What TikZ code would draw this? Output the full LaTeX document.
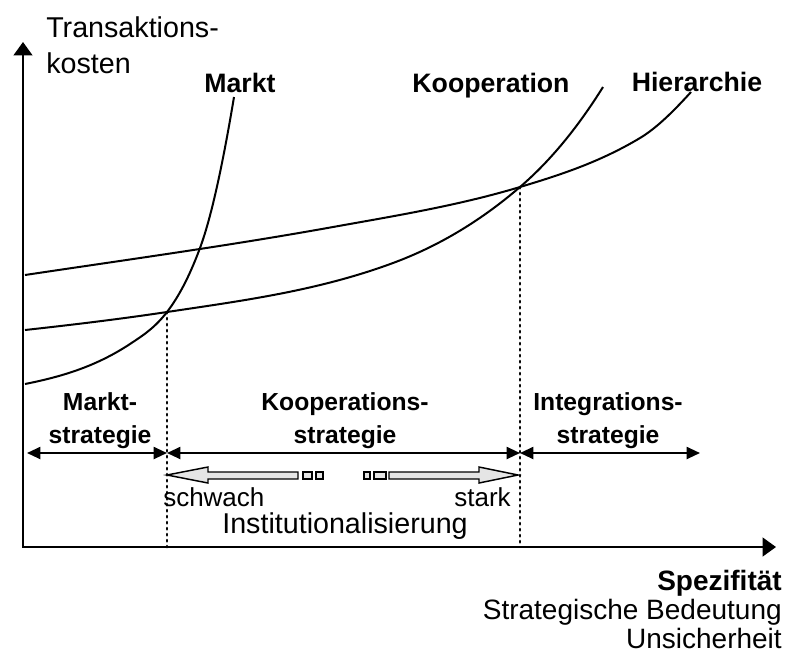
\documentclass[tikz,border=0pt]{standalone}
\usepackage{fontspec}
\setmainfont{Liberation Sans}
\usetikzlibrary{arrows.meta}
\tikzset{>=latex}

\begin{document}
\begin{tikzpicture}[x=0.75pt, y=-0.75pt,
  curve/.style={line width=1.5pt},
  axis/.style={line width=1.6pt, {Triangle[length=10pt,width=14pt]}-{Triangle[length=10pt,width=14pt]}},
  guide/.style={line width=2pt, line cap=round, dash pattern=on 1pt off 3.5pt},
  stratrange/.style={line width=1.5pt, {Triangle[length=10pt,width=9pt]}-{Triangle[length=10pt,width=9pt]}},
  fatarrow/.style={draw, line width=1.1pt, fill=black!10, line join=miter},
  lab/.style={inner sep=0pt, font=\fontsize{21.5}{27}\selectfont},
  curvelab/.style={inner sep=0pt, font=\bfseries\fontsize{20}{24}\selectfont},
  stratlab/.style={inner sep=0pt, align=center, font=\bfseries\fontsize{18.5}{24.75}\selectfont}]
\useasboundingbox (0,0) rectangle (791,654);
% axes
\coordinate (O) at (23,547);
\coordinate (ytop) at (23,42);
\coordinate (xend) at (776,547);
\draw[axis] (ytop) -- (O) -- (xend);
% crossings
\coordinate (c1) at (167,312);
\coordinate (c2) at (520,187);
% Hierarchie
\draw[curve] (25,275) .. controls (127.7,259.6) and (230.3,245.5) .. (333,227)
  .. controls (395.3,215.8) and (457.7,205.7) .. (c2)
  .. controls (560,175) and (600,162) .. (640,138)
  .. controls (657,127.8) and (674,110.7) .. (691,92);
% Kooperation
\draw[curve] (25,330) .. controls (72.3,324.8) and (119.7,319.1) .. (c1)
  .. controls (242.3,300.7) and (317.7,290.9) .. (393,263)
  .. controls (435.3,247.3) and (477.7,223.4) .. (c2)
  .. controls (547.7,163.2) and (575.3,131.3) .. (603,87);
% Markt
\draw[curve] (25,384) .. controls (60,377) and (95,367.1) .. (130,344)
  .. controls (142.3,335.9) and (154.7,328) .. (c1)
  .. controls (178,297.7) and (189,277.7) .. (200,248)
  .. controls (211.3,217.5) and (222.7,164.8) .. (234,97);
\draw[guide] (c1) -- (c1 |- O);
\draw[guide] (c2) -- (c2 |- O);
% strategy ranges
\coordinate (s0) at (27,453);
\coordinate (s1) at (167,453);
\coordinate (s2) at (520,453);
\coordinate (s3) at (700,453);
\draw[stratrange] (s0) -- (s1);
\draw[stratrange] (s1) -- (s2);
\draw[stratrange] (s2) -- (s3);
% institutionalisation arrows
\draw[fatarrow] (167,475) -- (208,467) -- (208,472) -- (298,472) -- (298,479) -- (208,479) -- (208,483) -- cycle;
\draw[fatarrow] (303,472) rectangle (312,479);
\draw[fatarrow] (316,472) rectangle (323,479);
\draw[fatarrow] (364,472) rectangle (370,479);
\draw[fatarrow] (374,472) rectangle (386,479);
\draw[fatarrow] (518,475) -- (479,467) -- (479,472) -- (389,472) -- (389,479) -- (479,479) -- (479,483) -- cycle;
% labels
\node[lab, align=left, anchor=west] (ylab) at (46,45) {Transaktions-\\kosten};
\node[curvelab] (markt) at (240,83) {Markt};
\node[curvelab] (koop) at (491,86) {Kooperation};
\node[curvelab] (hier) at (697,82) {Hierarchie};
\node[stratlab] (mstrat) at (100,421) {Markt-\\strategie};
\node[stratlab] (kstrat) at (345,421) {Kooperations-\\strategie};
\node[stratlab] (istrat) at (608,421) {Integrations-\\strategie};
\node[lab, anchor=west, font=\fontsize{19.5}{24}\selectfont] (weak) at (163,497) {schwach};
\node[lab, anchor=east, font=\fontsize{19.5}{24}\selectfont] (strong) at (511,497) {stark};
\node[lab] (inst) at (345,526) {Institutionalisierung};
\node[lab, align=right, anchor=east, font=\fontsize{21}{21.75}\selectfont] (xlab) at (782,609) {\textbf{Spezifität}\\Strategische Bedeutung\\Unsicherheit};
\end{tikzpicture}
\end{document}
